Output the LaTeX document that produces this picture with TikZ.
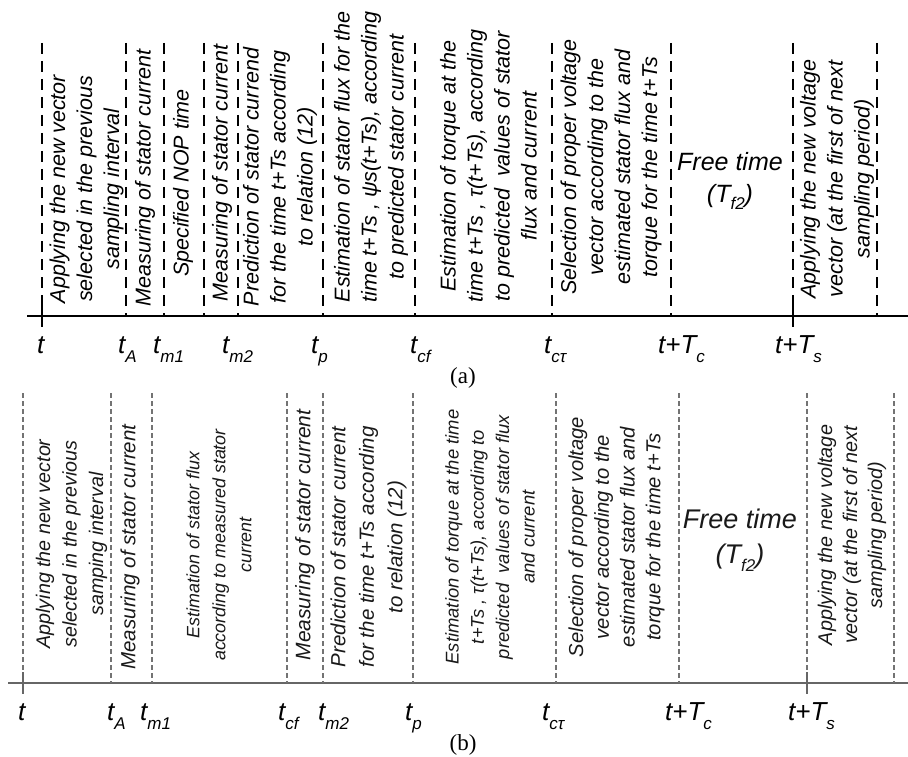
\documentclass[tikz,border=0pt]{standalone}
\usepackage{fontspec}
\setmainfont{Liberation Sans}
\newfontfamily\capfont{Liberation Serif}
\newcommand\lsub[1]{\raisebox{-0.35em}{\fontsize{17}{17}\selectfont #1}}
\newcommand\fsub[1]{\raisebox{-0.3em}{\fontsize{17}{17}\selectfont #1}}
\tikzset{
  dasha/.style={line width=2.1pt, dash pattern=on 11pt off 7pt},
  dashb/.style={line width=1.1pt, draw=black!55, dash pattern=on 5pt off 3pt},
  axisa/.style={line width=2.4pt},
  axisb/.style={line width=1.3pt, draw=black!60},
  ticka/.style={line width=2.1pt},
  tickb/.style={line width=1.3pt, draw=black!60},
  rota/.style={rotate=90, align=center, inner sep=0pt, font=\fontsize{21.5}{27}\selectfont\itshape},
  rotb/.style={rotate=90, align=center, inner sep=0pt, text=black!90},
  lab/.style={anchor=base west, inner sep=0pt, font=\fontsize{26}{26}\selectfont\itshape},
  free/.style={align=center, inner sep=0pt, font=\fontsize{25}{32}\selectfont\itshape},
  capt/.style={inner sep=0pt, font=\fontsize{23}{23}\capfont},
}
\begin{document}
\begin{tikzpicture}[x=1pt,y=-1pt]
\useasboundingbox (0,0) rectangle (908,757);
% ---------- (a) ----------
\coordinate (axaL) at (27,316);
\coordinate (axaR) at (908,316);
\draw[axisa] (axaL) -- (axaR);
\foreach \n/\x in {1/42,2/126,3/164,4/204,5/238,6/323,7/415,8/552,9/671,10/793,11/877}{
  \coordinate (at\n) at (\x,43);
  \coordinate (ab\n) at (\x,316);
  \draw[dasha] (at\n) -- (ab\n);
}
\coordinate (tka1) at (42,296); \coordinate (tkb1) at (42,327);
\coordinate (tka2) at (793,296); \coordinate (tkb2) at (793,327);
\draw[ticka] (tka1) -- (tkb1);
\draw[ticka] (tka2) -- (tkb2);

\node[rota] (A1) at (86.5,189) {Applying the new vector\\selected in the previous\\sampling interval};
\node[rota] (A2) at (145,178) {Measuring of stator current};
\node[rota] (A3) at (183,183) {Specified NOP time};
\node[rota] (A4) at (222,173) {Measuring of stator current};
\node[rota] (A5) at (280,177) {Prediction of stator currend\\for the time t+Ts according\\to relation (12)};
\node[rota] (A6) at (371,157) {Estimation of stator flux for the\\time t+Ts , ψs(t+Ts), according\\to predicted stator current};
\node[rota] (A7) at (488.5,166) {Estimation of torque at the\\time t+Ts , τ(t+Ts), according\\to predicted\ \ values of stator\\flux and current};
\node[rota] (A8) at (611,167) {Selection of proper voltage\\vector according to the\\estimated stator flux and\\torque for the time t+Ts};
\node[free] (A9) at (730,181) {Free time\\(T\fsub{f2})};
\node[rota] (A10) at (837,179) {Applying the new voltage\\vector (at the first of next\\sampling period)};

\node[lab] (la1) at (37,353) {t};
\node[lab] (la2) at (118,353) {t\lsub{A}};
\node[lab] (la3) at (153,353) {t\lsub{m1}};
\node[lab] (la4) at (222,353) {t\lsub{m2}};
\node[lab] (la5) at (311,353) {t\lsub{p}};
\node[lab] (la6) at (410,353) {t\lsub{cf}};
\node[lab] (la7) at (544,353) {t\lsub{cτ}};
\node[lab] (la8) at (658,353) {t+T\lsub{c}};
\node[lab] (la9) at (775,353) {t+T\lsub{s}};
\node[capt] (capa) at (463,378) {(a)};

% ---------- (b) ----------
\coordinate (axbL) at (8,683);
\coordinate (axbR) at (908,683);
\draw[axisb] (axbL) -- (axbR);
\foreach \n/\x in {1/23,2/111,3/152,4/287,5/323,6/413,7/556,8/679,9/807,10/894}{
  \coordinate (bt\n) at (\x,393);
  \coordinate (bb\n) at (\x,683);
  \draw[dashb] (bt\n) -- (bb\n);
}
\coordinate (tkc1) at (23,672); \coordinate (tkd1) at (23,694);
\coordinate (tkc2) at (807,672); \coordinate (tkd2) at (807,694);
\draw[tickb] (tkc1) -- (tkd1);
\draw[tickb] (tkc2) -- (tkd2);

\node[rotb, font=\fontsize{19.7}{26.5}\selectfont\itshape] (B1) at (71.5,544) {Applying the new vector\\selected in the previous\\samping interval};
\node[rotb, font=\fontsize{20.5}{26.5}\selectfont\itshape] (B2) at (130,547) {Measuring of stator current};
\node[rotb, font=\fontsize{17.9}{26}\selectfont\itshape] (B3) at (219,545) {Estimation of stator flux\\according to measured stator\\current};
\node[rotb, font=\fontsize{21}{26.5}\selectfont\itshape] (B4) at (305,535) {Measuring of stator current};
\node[rotb, font=\fontsize{20.5}{28.5}\selectfont\itshape] (B5) at (368.5,547) {Prediction of stator current\\for the time t+Ts according\\to relation (12)};
\node[rotb, font=\fontsize{18.4}{25.3}\selectfont\itshape] (B6) at (490,537) {Estimation of torque at the time\\t+Ts , τ(t+Ts), according to\\predicted\ \ values of stator flux\\and current};
\node[rotb, font=\fontsize{20.2}{25.7}\selectfont\itshape] (B7) at (616.5,537) {Selection of proper voltage\\vector according to the\\estimated stator flux and\\torque for the time t+Ts};
\node[free, font=\fontsize{27}{35}\selectfont\itshape, text=black!90] (B8) at (740,540) {Free time\\(T\fsub{f2})};
\node[rotb, font=\fontsize{19.8}{25}\selectfont\itshape] (B9) at (852,535) {Applying the new voltage\\vector (at the first of next\\sampling period)};

\node[lab] (lb1) at (18,720) {t};
\node[lab] (lb2) at (107,720) {t\lsub{A}};
\node[lab] (lb3) at (140,720) {t\lsub{m1}};
\node[lab] (lb4) at (278,720) {t\lsub{cf}};
\node[lab] (lb5) at (318,720) {t\lsub{m2}};
\node[lab] (lb6) at (405,720) {t\lsub{p}};
\node[lab] (lb7) at (542,720) {t\lsub{cτ}};
\node[lab] (lb8) at (665,720) {t+T\lsub{c}};
\node[lab] (lb9) at (788,720) {t+T\lsub{s}};
\node[capt] (capb) at (463,745) {(b)};
\end{tikzpicture}
\end{document}
